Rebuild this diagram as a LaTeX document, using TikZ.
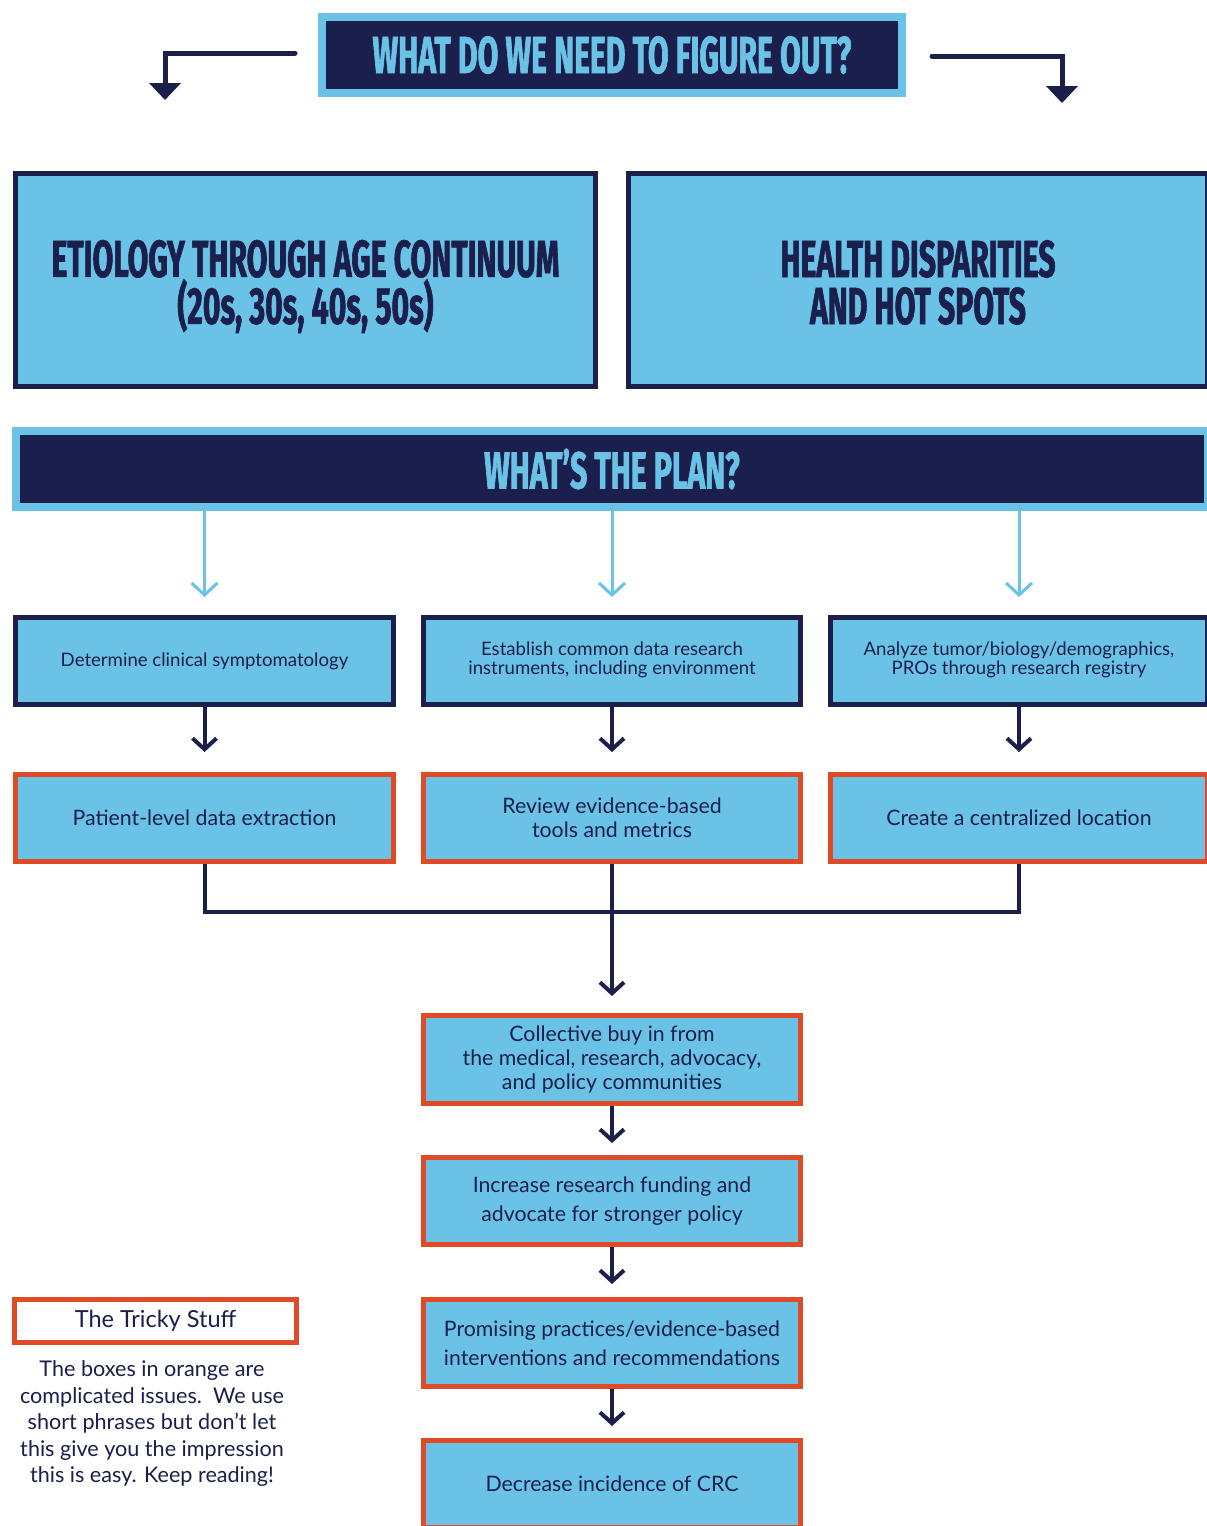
\documentclass[tikz,border=0pt]{standalone}
\usepackage{fontspec}
\setmainfont{Lato}
\newfontfamily\headfont[FakeStretch=0.58,FakeBold=1.2]{Fira Sans}
\usetikzlibrary{arrows.meta}
\definecolor{lblue}{HTML}{6AC2E6}
\definecolor{navy}{HTML}{1A1F4B}
\definecolor{orng}{HTML}{E04A27}
\newcommand\hdfont{\headfont\bfseries\fontsize{52}{47}\selectfont}
\newcommand\rowafont{\fontsize{18.6}{19.5}\selectfont}
\newcommand\rowbfont{\fontsize{21.3}{24}\selectfont}
\newcommand\rowcfont{\fontsize{21.3}{29}\selectfont}
\begin{document}
\begin{tikzpicture}[x=1pt,y=-1pt,
  box/.style={line width=5pt, fill=lblue, text=navy, align=center, inner sep=0pt},
  navybox/.style={box, draw=navy},
  orangebox/.style={box, draw=orng},
  bar/.style={draw=lblue, fill=navy, line width=8pt, text=lblue, inner sep=0pt, font=\hdfont},
  hdtxt/.style={text=navy, align=center, inner sep=0pt, font=\hdfont},
  colw/.style={minimum width=377pt},
  rowh/.style={minimum height=87pt},
  darr/.style={draw=navy, line width=4pt, -{Straight Barb[length=11pt,width=24pt]}},
  larr/.style={draw=lblue, line width=3pt, -{Straight Barb[length=12pt,width=26pt]}},
  tarr/.style={draw=navy, line width=5pt, line cap=round, -{Triangle[length=17pt,width=31pt]}},
  mline/.style={draw=navy, line width=4pt}
]
\useasboundingbox (0,0) rectangle (1207,1526);
\fill[white] (0,0) rectangle (1207,1526);
\clip (0,0) rectangle (1207,1526);

% header
\node[bar, minimum width=580pt, minimum height=76pt] (q) at (612,55) {WHAT DO WE NEED TO FIGURE OUT?};
\coordinate (la0) at (295,53);
\coordinate (la1) at (165,100);
\coordinate (ra0) at (932,56);
\coordinate (ra1) at (1062,103);
\draw[tarr] (la0) -| (la1);
\draw[tarr] (ra0) -| (ra1);

% big boxes
\node[navybox, minimum width=580pt, minimum height=213pt] (etio) at (305.5,280) {};
\node[hdtxt] (etiot) at ([yshift=-6.5pt]etio.center) {ETIOLOGY THROUGH AGE CONTINUUM\\(20s, 30s, 40s, 50s)};
\node[navybox, minimum width=579pt, minimum height=213pt] (hd) at (918,280) {};
\node[hdtxt] (hdt) at ([yshift=-2.5pt]hd.center) {HEALTH DISPARITIES\\AND HOT SPOTS};

% plan bar
\node[bar, minimum width=1192pt, minimum height=76pt] (plan) at (612,469) {WHAT’S THE PLAN?};

% row 1
\node[navybox, minimum width=378pt, rowh, font=\rowafont] (r1a) at (204.5,661) {\raisebox{-2pt}{Determine clinical symptomatology}};
\node[navybox, colw, rowh, font=\rowafont] (r1b) at (612,661) {\raisebox{-2pt}{\begin{tabular}{@{}c@{}}Establish common data research\\[-0.5pt]instruments, including environment\end{tabular}}};
\node[navybox, colw, rowh, font=\rowafont] (r1c) at (1019,661) {\raisebox{-2pt}{\begin{tabular}{@{}c@{}}Analyze tumor/biology/demographics,\\[-0.5pt]PROs through research registry\end{tabular}}};

% row 2
\node[orangebox, minimum width=378pt, rowh, font=\rowbfont] (r2a) at (204.5,818) {Patient-level data extraction};
\node[orangebox, colw, rowh, font=\rowbfont] (r2b) at (612,818) {Review evidence-based\\tools and metrics};
\node[orangebox, colw, rowh, font=\rowbfont] (r2c) at (1019,818) {Create a centralized location};

% column
\node[orangebox, colw, minimum height=88pt, font=\rowbfont] (c1) at (612,1059.5) {Collective buy in from\\the medical, research, advocacy,\\and policy communities};
\node[orangebox, colw, rowh, font=\rowcfont] (c2) at (612,1201) {Increase research funding and\\advocate for stronger policy};
\node[orangebox, colw, rowh, font=\rowcfont] (c3) at (612,1343) {Promising practices/evidence-based\\interventions and recommendations};
\node[orangebox, colw, rowh, font=\rowbfont] (c4) at (612,1484) {Decrease incidence of CRC};

% light blue arrows
\foreach \n in {r1a,r1b,r1c}
  \draw[larr, shorten >=18pt] (\n.north |- plan.south) -- (\n.north);

% navy arrows row1 -> row2
\draw[darr, shorten >=20pt] (r1a.south) -- (r2a.north);
\draw[darr, shorten >=20pt] (r1b.south) -- (r2b.north);
\draw[darr, shorten >=20pt] (r1c.south) -- (r2c.north);

% merge
\coordinate (mj) at (612,912);
\draw[mline] (r2a.south) |- (mj) -| (r2c.south);
\draw[darr, shorten >=17pt] (r2b.south) -- (c1.north);
\draw[darr, shorten >=12pt] (c1.south) -- (c2.north);
\draw[darr, shorten >=13pt] (c2.south) -- (c3.north);
\draw[darr, shorten >=12pt] (c3.south) -- (c4.north);

% tricky stuff
\node[draw=orng, line width=5pt, fill=white, text=navy, minimum width=282pt, minimum height=43pt, inner sep=0pt,
  font=\fontsize{23.5}{26}\selectfont] (tricky) at (155.5,1321) {The Tricky Stuff};
\node[text=navy, align=center, inner sep=0pt, font=\fontsize{21.6}{26.5}\selectfont, anchor=north] (note) at (152,1360.5)
  {The boxes in orange are\\complicated issues.\ \ We use\\short phrases but don’t let\\this give you the impression\\this is easy. Keep reading!};
\end{tikzpicture}
\end{document}
